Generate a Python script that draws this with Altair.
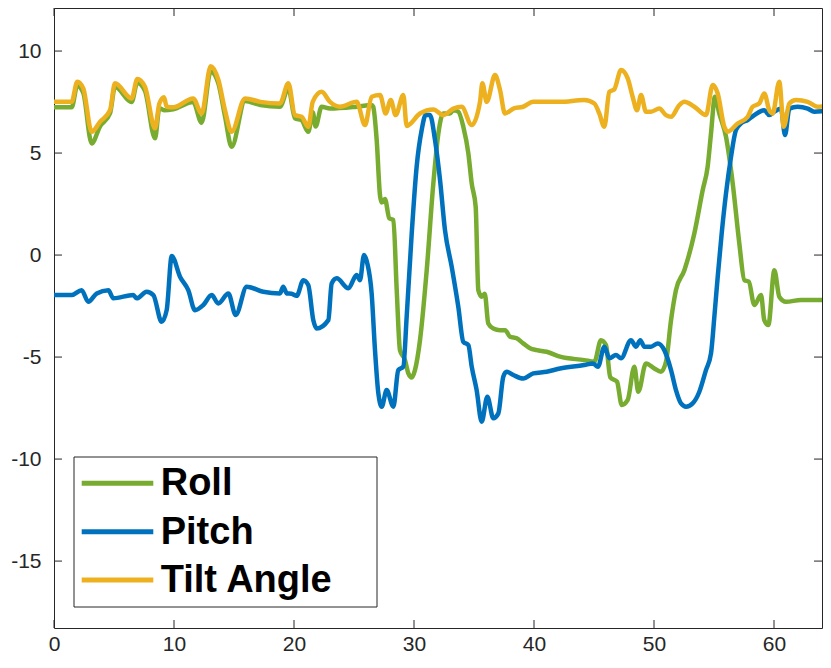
import altair as alt
import pandas as pd

# ---- data ----
series_names = ["Roll", "Pitch", "Tilt Angle"]
series_colors = ["#77AC30", "#0072BD", "#EDB120"]

roll_t = [0, 1.47, 1.94, 2.44, 3.14, 3.83, 4.67, 5.08, 6.47, 6.94, 7.58, 8.42, 8.78, 9.17, 9.94,
          11.6, 12.3, 13.06, 13.7, 14.25, 14.8, 15.92, 17.2, 18.83, 19.53, 20.08, 20.64, 21.19,
          21.56, 21.8, 22.3, 23.0, 25.22, 26.47, 26.6, 26.89, 27.17, 27.31, 27.58, 27.94, 28.28,
          28.56, 28.83, 29.25, 29.53, 29.81, 30.08, 30.5, 31.06, 31.61, 32.03, 32.44, 33.0, 33.28,
          33.69, 34.11, 34.53, 34.81, 35.14, 35.36, 35.64, 35.9, 36.19, 36.61, 37.17, 37.6, 38.0,
          38.56, 39.1, 39.67, 40.22, 41.06, 42.17, 44.19, 45.03, 45.58, 46.0, 46.36, 46.92, 47.31,
          47.81, 48.36, 48.69, 49.33, 50.03, 50.58, 51.0, 51.42, 51.83, 52.53, 53.36, 54.06, 54.47,
          54.75, 55.08, 55.44, 56.0, 56.56, 57.11, 57.53, 57.9, 58.36, 58.92, 59.19, 59.53, 60.03,
          60.44, 61.0, 62.25, 64.5]
roll_v = [7.24, 7.24, 8.3, 7.95, 5.47, 6.3, 6.95, 8.25, 7.5, 8.45, 8.05, 5.72, 7.2, 7.1, 7.15,
          7.5, 6.49, 9.0, 8.4, 6.8, 5.31, 7.55, 7.35, 7.27, 8.17, 6.7, 6.6, 6.04,
          7.0, 6.3, 7.27, 7.18, 7.27, 7.35, 7.27, 5.64, 2.91, 2.58, 2.75, 1.8, 1.72,
          -1.72, -4.66, -5.15, -5.8, -6.0, -5.64, -4.17, -0.74, 3.5, 5.96, 6.94, 6.94, 7.1,
          7.03, 6.29, 4.98, 3.51, 2.37, -1.72, -2.04, -1.9, -3.35, -3.6, -3.68, -3.68, -4.0,
          -4.08, -4.33, -4.57, -4.66, -4.74, -4.98, -5.15, -5.23, -4.17, -4.41, -6.0, -6.21, -7.35,
          -7.1, -5.47, -6.7, -5.31, -5.56, -5.72, -5.23, -3.19, -1.72, -0.74, 1.06, 3.19, 4.33,
          5.96, 7.76, 6.94, 5.8, 3.51, 0.57, -1.23, -1.3, -2.45, -1.96, -3.19, -3.43, -0.74,
          -2.04, -2.29, -2.2, -2.2]

pitch_t = [0, 1.47, 2.3, 2.86, 3.56, 4.53, 4.94, 6.61, 6.89, 7.72, 8.28, 8.97, 9.39, 9.81, 10.5,
           11.19, 11.75, 12.44, 13.14, 13.69, 14.53, 15.14, 16.06, 17.44, 18.83, 19.1, 19.4, 19.8,
           20.22, 20.78, 21.19, 21.61, 21.89, 22.86, 23.14, 23.56, 24.53, 25.22, 25.5, 25.83,
           26.11, 26.47, 26.75, 27.03, 27.31, 27.72, 28.28, 28.69, 29.11, 29.39, 29.81, 30.22,
           30.64, 30.97, 31.33, 31.75, 32.17, 32.58, 33.14, 33.69, 34.11, 34.53, 34.81, 35.22,
           35.64, 36.11, 36.61, 37.03, 37.44, 37.72, 38.28, 39.1, 39.94, 41.06, 42.17, 44.19,
           44.9, 45.33, 45.86, 46.28, 46.83, 47.25, 48.08, 48.5, 48.86, 49.19, 49.75, 50.31,
           50.86, 51.42, 51.83, 52.25, 52.67, 53.22, 53.78, 54.33, 54.75, 55.03, 55.31, 55.64,
           56.0, 56.42, 56.83, 57.25, 57.81, 58.36, 59.19, 59.61, 60.03, 60.58, 60.92, 61.28,
           61.97, 62.81, 63.36, 64.5]
pitch_v = [-1.96, -1.96, -1.72, -2.29, -1.88, -1.72, -2.12, -1.96, -2.12, -1.8, -1.96, -3.27, -2.7,
           -0.05, -1.06, -1.72, -2.7, -2.45, -1.96, -2.37, -1.88, -2.94, -1.55, -1.8, -1.88, -1.55,
           -1.88, -1.9, -2.0, -1.23, -1.47, -3.19, -3.6, -3.19, -1.39, -1.14, -1.63, -0.98, -1.23,
           0.0, -0.41, -1.88, -4.66, -6.78, -7.43, -6.62, -7.43, -5.64, -5.47, -3.02, 1.06, 4.33,
           6.13, 6.86, 6.86, 5.64, 3.68, 1.23, -0.57, -2.53, -4.25, -4.41, -5.47, -6.62,
           -8.17, -6.94, -8.0, -7.76, -5.96, -5.72, -5.88, -6.05, -5.8, -5.72, -5.56, -5.39,
           -5.31, -5.47, -4.49, -5.06, -4.9, -5.06, -4.17, -4.49, -4.17, -4.49, -4.49, -4.33,
           -4.66, -5.64, -6.62, -7.27, -7.43, -7.27, -6.7, -5.64, -4.82, -3.02, -1.06, 1.06,
           3.02, 4.82, 6.13, 6.45, 6.62, 6.86, 7.1, 6.86, 7.03, 7.18, 5.88, 7.18,
           7.27, 7.18, 7.03, 7.08]

tilt_t = [0, 1.47, 1.94, 2.44, 3.14, 3.83, 4.67, 5.08, 6.47, 6.94, 7.58, 8.42, 8.78, 9.17, 9.39,
          9.94, 11.6, 12.3, 13.06, 13.7, 14.25, 14.8, 15.92, 17.2, 18.83, 19.53, 20.08, 20.64,
          21.19, 21.56, 22.3, 23.0, 23.83, 25.22, 25.92, 26.47, 27.17, 27.64, 28.06, 28.47, 29.11,
          29.39, 30.5, 31.61, 32.44, 33.28, 33.97, 34.81, 35.5, 35.7, 36.06, 36.75, 37.17, 37.58,
          38.28, 39.1, 39.94, 42.17, 44.19, 45.03, 45.44, 45.86, 46.28, 46.69, 47.25, 47.81,
          48.22, 48.58, 48.92, 49.33, 49.75, 50.44, 51.0, 51.42, 52.11, 52.53, 53.36, 54.33,
          54.89, 55.31, 55.86, 56.14, 56.97, 57.81, 58.22, 58.78, 59.19, 59.61, 59.89, 60.44,
          60.81, 61.28, 61.83, 62.81, 63.64, 64.5]
tilt_v = [7.51, 7.51, 8.5, 8.17, 6.04, 6.53, 7.1, 8.42, 7.68, 8.63, 8.25, 6.21, 7.43, 7.73, 7.27,
          7.24, 7.68, 6.94, 9.26, 8.58, 7.1, 6.04, 7.68, 7.51, 7.43, 8.42, 6.86, 6.78,
          6.29, 7.51, 8.0, 7.51, 7.27, 7.51, 6.37, 7.76, 7.84, 6.94, 7.6, 6.86, 7.84,
          6.33, 6.94, 7.14, 6.86, 7.18, 7.27, 6.37, 7.51, 8.42, 7.51, 8.82, 8.09, 6.94,
          7.18, 7.27, 7.51, 7.51, 7.6, 7.43, 6.94, 6.29, 8.0, 8.12, 9.07, 8.66,
          7.76, 7.1, 7.84, 7.03, 7.03, 7.18, 6.86, 6.78, 7.35, 7.51, 7.27, 6.86,
          8.33, 7.92, 6.29, 6.05, 6.45, 6.78, 7.27, 7.43, 7.92, 7.1, 6.94, 8.5,
          6.29, 7.43, 7.6, 7.51, 7.27, 7.33]

x_ticks = [0, 10, 20, 30, 40, 50, 60]
y_ticks = [-15, -10, -5, 0, 5, 10]

# ---- build table ----
frames = []
for name, ts, vs in [("Roll", roll_t, roll_v), ("Pitch", pitch_t, pitch_v), ("Tilt Angle", tilt_t, tilt_v)]:
    frames.append(pd.DataFrame({"t": ts, "v": vs, "series": name}))
df = pd.concat(frames, ignore_index=True)

W, H = 768, 620
AX = "#262626"
FONT = "Liberation Sans"

xscale = alt.Scale(domain=[0, 64.0], nice=False, zero=False)
yscale = alt.Scale(domain=[-18.28, 12.11], nice=False, zero=False)

xaxis = alt.Axis(values=x_ticks, title=None, grid=False, domain=False, ticks=False, tickSize=0,
                 labelFontSize=21, labelColor=AX, labelFont=FONT, labelPadding=5,
                 labelFlush=False, labelOverlap=False, labelExpr="'' + datum.value")
yaxis = alt.Axis(values=y_ticks, title=None, grid=False, domain=False, ticks=False, tickSize=0,
                 labelFontSize=21, labelColor=AX, labelFont=FONT, labelPadding=13,
                 labelOverlap=False, labelExpr="'' + datum.value")

lines = alt.Chart(df).mark_line(strokeWidth=4.5, interpolate="monotone", clip=True,
                                strokeJoin="round").encode(
    x=alt.X("t:Q", scale=xscale, axis=xaxis),
    y=alt.Y("v:Q", scale=yscale, axis=yaxis),
    color=alt.Color("series:N", scale=alt.Scale(domain=series_names, range=series_colors), legend=None),
    order=alt.Order("t:Q"),
)

xt = pd.DataFrame({"t": x_ticks})
yt = pd.DataFrame({"v": y_ticks})
TL = 8
tick_bottom = alt.Chart(xt).mark_rule(color=AX, strokeWidth=1).encode(
    x=alt.X("t:Q", scale=xscale, axis=xaxis), y=alt.value(H), y2=alt.value(H - TL))
tick_top = alt.Chart(xt).mark_rule(color=AX, strokeWidth=1).encode(
    x=alt.X("t:Q", scale=xscale, axis=xaxis), y=alt.value(0), y2=alt.value(TL))
tick_left = alt.Chart(yt).mark_rule(color=AX, strokeWidth=1).encode(
    y=alt.Y("v:Q", scale=yscale, axis=yaxis), x=alt.value(0), x2=alt.value(TL))
tick_right = alt.Chart(yt).mark_rule(color=AX, strokeWidth=1).encode(
    y=alt.Y("v:Q", scale=yscale, axis=yaxis), x=alt.value(W), x2=alt.value(W - TL))

# ---- legend (MATLAB style box) ----
one = pd.DataFrame({"a": [0]})
legend_box = alt.Chart(one).mark_rect(fill="white", stroke=AX, strokeWidth=1).encode(
    x=alt.value(20), x2=alt.value(323), y=alt.value(449), y2=alt.value(599))
row_y = [475.3, 523.7, 572.0]
legend_layers = [legend_box]
for i, name in enumerate(series_names):
    ldf = pd.DataFrame({"label": [name]})
    legend_layers.append(alt.Chart(ldf).mark_rule(strokeWidth=5, color=series_colors[i]).encode(
        x=alt.value(27.7), x2=alt.value(99.3), y=alt.value(row_y[i])))
    legend_layers.append(alt.Chart(ldf).mark_text(align="left", baseline="middle", fontSize=38,
                                                   fontWeight="bold", font=FONT, color="black", dy=1).encode(
        x=alt.value(106.7), y=alt.value(row_y[i]), text="label:N"))

chart = alt.layer(lines, tick_bottom, tick_top, tick_left, tick_right, *legend_layers).properties(
    width=W, height=H,
    autosize=alt.AutoSizeParams(type="none"),
    padding={"left": 46, "top": 0, "right": 1, "bottom": 27},
    background="white",
).configure_view(stroke=AX, strokeWidth=1)

chart.save("out.html", embed_options={"renderer": "svg", "actions": False})
